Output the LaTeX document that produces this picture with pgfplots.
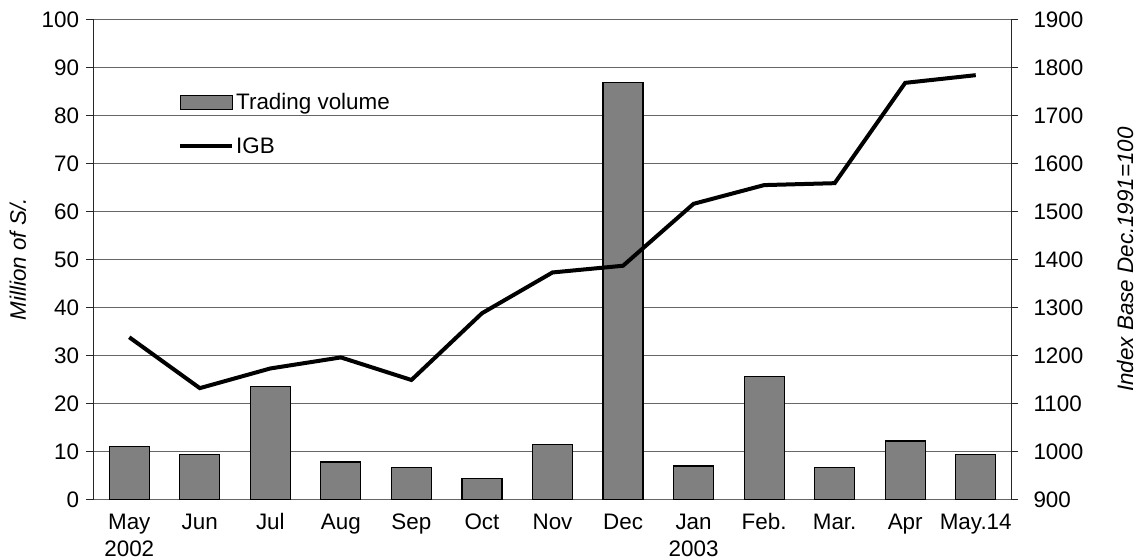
\documentclass[border=0pt]{standalone}
\usepackage{fontspec}
\setmainfont{Liberation Sans}
\usepackage{pgfplots}
\pgfplotsset{compat=1.18}
\definecolor{barfill}{HTML}{808080}
\newcommand\fz{\fontsize{22.5}{28}\selectfont}
\begin{document}
\begin{tikzpicture}
\useasboundingbox (-94bp,-60.5bp) rectangle (1052bp,499.5bp);
\begin{axis}[
  at={(0,0)}, anchor=south west, scale only axis,
  width=917bp, height=480bp,
  xmin=-0.5, xmax=12.5, ymin=0, ymax=100,
  ytick={0,10,...,100},
  xtick={0,...,12},
  xticklabels={{\strut May\\2002},\strut Jun,\strut Jul,\strut Aug,\strut Sep,\strut Oct,\strut Nov,\strut Dec,{\strut Jan\\2003},\strut Feb.,\strut Mar.,\strut Apr,\strut May.14},
  xticklabel style={align=center, font=\fz, yshift=1bp},
  x tick style={draw=none},
  axis y line*=left, axis x line*=bottom,
  x axis line style={draw=none},
  y axis line style={black!85, line width=1bp},
  y tick style={black!85, line width=1bp},
  tick align=outside, major tick length=7.5bp,
  yticklabel style={font=\fz, xshift=-4bp},
  /pgf/number format/assume math mode=true,
  ymajorgrids, grid style={black!60, line width=1bp},
  ylabel={\itshape Million of S/.},
  ylabel style={at={(axis description cs:-0.0829,0.5)}, anchor=center, font=\fz},
  clip=false,
]
\addplot[ybar, bar width=40bp, fill=barfill, draw=black, line width=1.2bp]
  coordinates {(0,11.0) (1,9.4) (2,23.6) (3,7.8) (4,6.7) (5,4.3) (6,11.4) (7,86.8) (8,7.0) (9,25.6) (10,6.6) (11,12.2) (12,9.3)};
\end{axis}
\begin{axis}[
  at={(0,0)}, anchor=south west, scale only axis,
  width=917bp, height=480bp,
  xmin=-0.5, xmax=12.5, ymin=900, ymax=1900,
  ytick={900,1000,...,1900},
  axis y line*=right, axis x line=none,
  axis line style={black!85, line width=1bp},
  y tick style={black!85, line width=1bp},
  tick align=outside, major tick length=7bp,
  yticklabel style={font=\fz, xshift=12bp},
  /pgf/number format/assume math mode=true,
  /pgf/number format/1000 sep={},
  ylabel={\itshape Index Base Dec.1991=100},
  ylabel style={at={(axis description cs:1.1243,0.5)}, anchor=center, font=\fz, rotate=0},
  legend style={draw=none, fill=none, font=\fz, anchor=north west,
    at={(axis description cs:0.0916,0.85)}, row sep=22bp, inner sep=0pt,
    /tikz/every even column/.append style={column sep=2bp}},
  legend cell align=left,
  clip=false,
]
\addlegendimage{legend image code/.code={\draw[fill=barfill,draw=black,line width=1.2bp] (0bp,-7bp) rectangle (52bp,7bp);}}
\addlegendentry{Trading volume}
\addplot[black, line width=4bp, line join=miter, mark=none,
  legend image code/.code={\draw[line width=4bp] (0bp,0bp) -- (52bp,0bp);}]
  coordinates {(0,1238) (1,1132) (2,1173) (3,1196) (4,1149) (5,1288) (6,1373) (7,1387) (8,1516) (9,1555) (10,1559) (11,1768) (12,1784)};
\addlegendentry{IGB}
\end{axis}
\end{tikzpicture}
\end{document}
